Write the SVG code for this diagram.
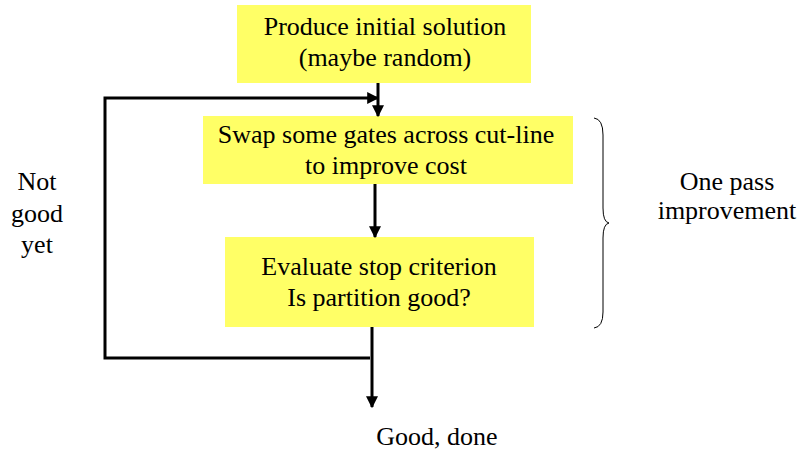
<svg xmlns="http://www.w3.org/2000/svg" width="805" height="456" viewBox="0 0 805 456">
<style>
.box{fill:#ffff66;stroke:none}
.t{font-family:'Liberation Serif','DejaVu Serif',serif;font-size:26px;fill:#000;text-anchor:middle}
.c{stroke:#000;stroke-width:3;fill:none}
</style>
<defs>
<marker id="ah" viewBox="0 0 10 10" refX="9" refY="5" markerWidth="4" markerHeight="4" orient="auto" markerUnits="strokeWidth">
<path d="M0,0 L10,5 L0,10 z" fill="#000"/>
</marker>
</defs>
<rect width="805" height="456" fill="#fff"/>
<g id="n1">
<rect class="box" x="237" y="5" width="294" height="78"/>
<text class="t" x="385" y="35">Produce initial solution</text>
<text class="t" x="385" y="66">(maybe random)</text>
</g>
<g id="n2">
<rect class="box" x="203" y="116" width="370" height="68"/>
<text class="t" x="386" y="143">Swap some gates across cut-line</text>
<text class="t" x="386" y="174">to improve cost</text>
</g>
<g id="n3">
<rect class="box" x="225" y="237" width="309" height="90"/>
<text class="t" x="379" y="275">Evaluate stop criterion</text>
<text class="t" x="379" y="306">Is partition good?</text>
</g>
<g id="labels">
<text class="t" x="37" y="190">Not</text>
<text class="t" x="37" y="222">good</text>
<text class="t" x="37" y="253">yet</text>
<text class="t" x="727" y="190">One pass</text>
<text class="t" x="727" y="219">improvement</text>
<text class="t" x="437" y="445">Good, done</text>
</g>
<g id="connectors">
<line class="c" x1="378" y1="83" x2="378" y2="116" marker-end="url(#ah)"/>
<polyline class="c" points="370,358 105,358 105,98 378,98" marker-end="url(#ah)"/>
<line class="c" x1="375" y1="184" x2="375" y2="237" marker-end="url(#ah)"/>
<line class="c" x1="372" y1="327" x2="372" y2="407" marker-end="url(#ah)"/>
<path d="M594,118 Q603,119 603,135 L603,208 Q603,222 609,223 Q603,224 603,238 L603,312 Q603,327 594,328" stroke="#000" stroke-width="1" fill="none"/>
</g>
</svg>
